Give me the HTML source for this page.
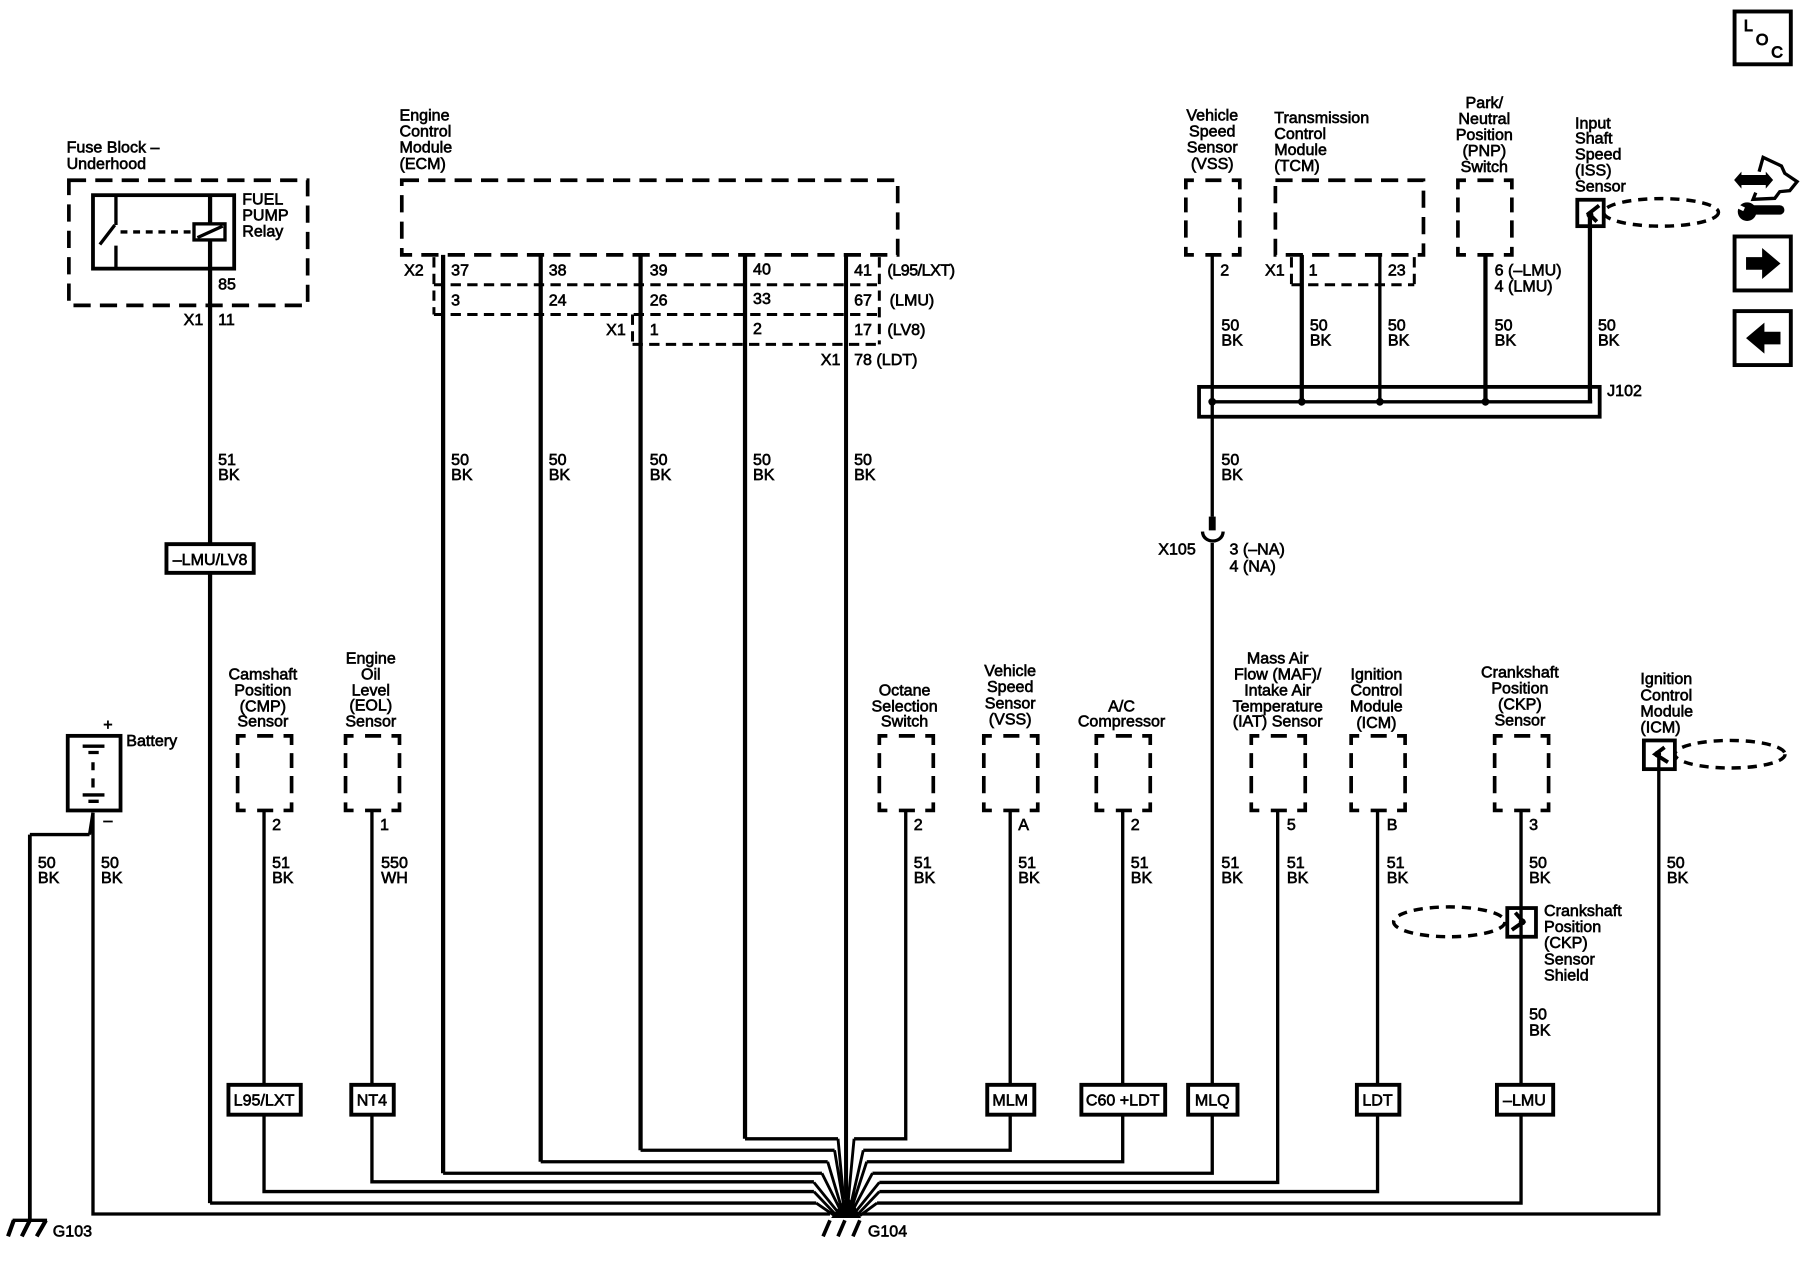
<!DOCTYPE html>
<html><head><meta charset="utf-8"><style>
html,body{margin:0;padding:0;background:#fff}
svg{display:block}
text{font-family:"Liberation Sans",sans-serif;font-size:14px;fill:#000;stroke:#000;stroke-width:.55}
.m{text-anchor:middle}
.w{fill:none;stroke:#000;stroke-width:2.9}
.t{fill:none;stroke:#000;stroke-width:3.7}
.d{fill:none;stroke:#000;stroke-width:3.2;stroke-dasharray:15 8}
.s{fill:none;stroke:#000;stroke-width:2.6;stroke-dasharray:9 5.5}
.e{fill:none;stroke:#000;stroke-width:3;stroke-dasharray:8 6}
.b{fill:none;stroke:#000;stroke-width:3.3}
.c{fill:none;stroke:#000;stroke-width:3.4}
</style></head><body>
<svg xmlns="http://www.w3.org/2000/svg" width="1800" height="1280" viewBox="0 0 1568 1115">
<defs>
<g id="b" fill="none" stroke="#000" stroke-width="3.2"><path d="M0 8V0H7M17 0H31M40 0H47V8M0 15V28M0 35V50M47 15V28M47 35V50M0 58V65H7M17 65H31M40 65H47V58"/></g>
</defs>

<!-- Fuse block -->
<rect x="60" y="157" width="208" height="109" class="d"/>
<rect x="81" y="170" width="123" height="64" class="b"/>
<path class="w" d="M101 170V196M101 214V234"/>
<path class="w" d="M100 196L87 213"/>
<path class="w" style="stroke-dasharray:6 5" d="M105 202H168"/>
<rect x="169" y="195" width="27" height="14" class="w"/>
<path class="w" d="M172 207L194 197"/>
<path class="t" d="M183 170V195M183 209V474M183 499V1048"/>
<path class="w" d="M183 1048H711"/>

<!-- ECM -->
<rect x="350" y="157" width="432" height="65" class="d"/>
<path class="s" d="M378 224V274M378 248H766M378 274H766M551 274V300M551 300H766M766 224V300" />
<path class="t" d="M386 222V1022M471 222V1012M558 222V1002M649 222V992"/>
<path class="t" style="stroke-width:3.5" d="M737 222V1045"/>
<path class="w" d="M386 1022H716M471 1012H721M558 1002H727M649 992H730"/>

<!-- Fan -->
<path class="w" style="stroke-width:2.5" d="M727 1002L735 1050M730 992L735 1045M721 1012L733 1052M716 1022L732 1054M709 1030L730 1056M709 1038L728 1058M711 1048L727 1059"/>
<path class="w" style="stroke-width:2.5" d="M744 992L739 1045M752 1002L741 1050M755 1012L742 1052M760 1022L743 1054M766 1030L745 1056M766 1038L747 1058M764 1048L749 1059"/>
<polygon points="724,1061 750,1061 745,1051 738,1042 731,1051" fill="#000"/>
<path class="w" d="M81 708V1057.5H723M230 706V1038H709M324 706V1029.5H709M789 706V992H744M880 706V1002H752M978 706V1012H755M1056 473V1022H760M1113 706V1030H766M1200 706V1038H766M1325 706V1048H764M1445 657V1057.5H751"/>
<path class="w" style="stroke-width:3.2" d="M723 1063L717 1077M736 1063L730 1077M749 1063L743 1077"/>
<text x="756" y="1077">G104</text>

<!-- G103 / battery -->
<path class="b" d="M26 727V1063"/>
<path class="w" d="M11 1063H41M78 727H26M78 727L81 708"/>
<path class="b" style="stroke-width:3.6" d="M12 1063L7 1077M26 1063L19 1077M40 1063L32 1077"/>
<text x="46" y="1077">G103</text>
<rect x="59" y="641" width="46" height="65" class="b"/>
<path class="w" d="M72 650H91M77 655.5H86M81 664V671M81 678V686M72 692.5H91M77 698H86"/>
<text x="94" y="636" class="m">+</text><text x="94" y="719" class="m">–</text>
<text x="110" y="650">Battery</text>

<!-- Dashed sensor boxes bottom -->
<use href="#b" x="207" y="641"/><use href="#b" x="301" y="641"/><use href="#b" x="766" y="641"/>
<use href="#b" x="857" y="641"/><use href="#b" x="955" y="641"/><use href="#b" x="1090" y="641"/>
<use href="#b" x="1177" y="641"/><use href="#b" x="1302" y="641"/>

<!-- top sensors -->
<use href="#b" x="1033" y="157"/><use href="#b" x="1270" y="157"/>
<rect x="1111" y="157" width="129" height="65" class="d"/>
<path class="s" d="M1125 224V249M1125 248H1232M1232 224V249"/>
<path class="w" d="M1056 222V450"/>
<path class="t" d="M1134 222V349M1294 222V349M1385 186V350"/>
<path class="w" d="M1202 222V349M1056 350H1387"/>
<rect x="1044.5" y="337" width="349" height="26" class="b"/>
<circle cx="1056" cy="350" r="3.4"/><circle cx="1134" cy="350" r="3.4"/><circle cx="1202" cy="350" r="3.4"/><circle cx="1294" cy="350" r="3.4"/>
<rect x="1053" y="450" width="6" height="12" fill="#000"/>
<path class="w" d="M1047.5 463C1048 474 1065 474 1065.5 463"/>

<!-- shields -->
<rect x="1374" y="174" width="23" height="23" class="b"/>
<path class="c" d="M1393 179L1384 186L1391 193"/><circle cx="1385" cy="187" r="3"/>
<ellipse cx="1447" cy="185" rx="50" ry="12" class="e"/>
<rect x="1432" y="645" width="27" height="25" class="b"/>
<path class="c" d="M1450 651L1442 657L1453 664"/><circle cx="1444" cy="657" r="3"/>
<ellipse cx="1507" cy="657" rx="48" ry="12" class="e"/>
<rect x="1313" y="791" width="25" height="25" class="b"/>
<path class="c" d="M1320 795L1327 803L1317 810"/><circle cx="1326" cy="803" r="3"/>
<ellipse cx="1262.5" cy="803" rx="48.5" ry="13" class="e"/>

<!-- Option boxes -->
<g fill="#fff" stroke="#000" stroke-width="3.4">
<rect x="145" y="474" width="76" height="25"/>
<rect x="199" y="945" width="63" height="26"/>
<rect x="306" y="945" width="37" height="26"/>
<rect x="860" y="945" width="41" height="26"/>
<rect x="942" y="945" width="73" height="26"/>
<rect x="1035" y="945" width="43" height="26"/>
<rect x="1182" y="945" width="37" height="26"/>
<rect x="1304" y="945" width="49" height="26"/>
</g>
<text x="183" y="492" class="m">–LMU/LV8</text>
<text x="230" y="963" class="m">L95/LXT</text>
<text x="324" y="963" class="m">NT4</text>
<text x="880" y="963" class="m">MLM</text>
<text x="978" y="963" class="m">C60 +LDT</text>
<text x="1056" y="963" class="m">MLQ</text>
<text x="1200" y="963" class="m">LDT</text>
<text x="1328" y="963" class="m">–LMU</text>

<!-- Labels -->
<text x="58" y="133">Fuse Block –</text><text x="58" y="147">Underhood</text>
<text x="211" y="178">FUEL</text><text x="211" y="192">PUMP</text><text x="211" y="206">Relay</text>
<text x="190" y="252">85</text><text x="160" y="283">X1</text><text x="190" y="283">11</text>
<text x="190" y="405">51</text><text x="190" y="418">BK</text>

<text x="348" y="105">Engine</text><text x="348" y="119">Control</text><text x="348" y="133">Module</text><text x="348" y="147">(ECM)</text>
<text x="352" y="240">X2</text>
<text x="393" y="240">37</text><text x="478" y="240">38</text><text x="566" y="240">39</text><text x="656" y="239">40</text><text x="744" y="240">41</text><text x="773" y="240" textLength="59">(L95/LXT)</text>
<text x="393" y="266">3</text><text x="478" y="266">24</text><text x="566" y="266">26</text><text x="656" y="265">33</text><text x="744" y="266">67</text><text x="775" y="266">(LMU)</text>
<text x="528" y="292">X1</text><text x="566" y="292">1</text><text x="656" y="291">2</text><text x="744" y="292">17</text><text x="773" y="292">(LV8)</text>
<text x="715" y="318">X1</text><text x="744" y="318">78 (LDT)</text>

<text x="393" y="405">50</text><text x="393" y="418">BK</text>
<text x="478" y="405">50</text><text x="478" y="418">BK</text>
<text x="566" y="405">50</text><text x="566" y="418">BK</text>
<text x="656" y="405">50</text><text x="656" y="418">BK</text>
<text x="744" y="405">50</text><text x="744" y="418">BK</text>

<text x="1056" y="105" class="m">Vehicle</text><text x="1056" y="119" class="m">Speed</text><text x="1056" y="133" class="m">Sensor</text><text x="1056" y="147" class="m">(VSS)</text>
<text x="1110" y="107">Transmission</text><text x="1110" y="121">Control</text><text x="1110" y="135">Module</text><text x="1110" y="149">(TCM)</text>
<text x="1293" y="94" class="m">Park/</text><text x="1293" y="108" class="m">Neutral</text><text x="1293" y="122" class="m">Position</text><text x="1293" y="136" class="m">(PNP)</text><text x="1293" y="150" class="m">Switch</text>
<text x="1372" y="112">Input</text><text x="1372" y="125">Shaft</text><text x="1372" y="139">Speed</text><text x="1372" y="153">(ISS)</text><text x="1372" y="167">Sensor</text>

<text x="1063" y="240">2</text><text x="1102" y="240">X1</text><text x="1140" y="240">1</text><text x="1209" y="240">23</text>
<text x="1302" y="240">6 (–LMU)</text><text x="1302" y="254">4 (LMU)</text>
<text x="1064" y="288">50</text><text x="1064" y="301">BK</text>
<text x="1141" y="288">50</text><text x="1141" y="301">BK</text>
<text x="1209" y="288">50</text><text x="1209" y="301">BK</text>
<text x="1302" y="288">50</text><text x="1302" y="301">BK</text>
<text x="1392" y="288">50</text><text x="1392" y="301">BK</text>
<text x="1400" y="345">J102</text>
<text x="1064" y="405">50</text><text x="1064" y="418">BK</text>
<text x="1009" y="483">X105</text><text x="1071" y="483">3 (–NA)</text><text x="1071" y="498">4 (NA)</text>

<text x="229" y="592" class="m">Camshaft</text><text x="229" y="606" class="m">Position</text><text x="229" y="620" class="m">(CMP)</text><text x="229" y="633" class="m">Sensor</text>
<text x="323" y="578" class="m">Engine</text><text x="323" y="592" class="m">Oil</text><text x="323" y="606" class="m">Level</text><text x="323" y="619" class="m">(EOL)</text><text x="323" y="633" class="m">Sensor</text>
<text x="788" y="606" class="m">Octane</text><text x="788" y="620" class="m">Selection</text><text x="788" y="633" class="m">Switch</text>
<text x="880" y="589" class="m">Vehicle</text><text x="880" y="603" class="m">Speed</text><text x="880" y="617" class="m">Sensor</text><text x="880" y="631" class="m">(VSS)</text>
<text x="977" y="620" class="m">A/C</text><text x="977" y="633" class="m">Compressor</text>
<text x="1113" y="578" class="m">Mass Air</text><text x="1113" y="592" class="m">Flow (MAF)/</text><text x="1113" y="606" class="m">Intake Air</text><text x="1113" y="620" class="m">Temperature</text><text x="1113" y="633" class="m">(IAT) Sensor</text>
<text x="1199" y="592" class="m">Ignition</text><text x="1199" y="606" class="m">Control</text><text x="1199" y="620" class="m">Module</text><text x="1199" y="634" class="m">(ICM)</text>
<text x="1324" y="590" class="m">Crankshaft</text><text x="1324" y="604" class="m">Position</text><text x="1324" y="618" class="m">(CKP)</text><text x="1324" y="632" class="m">Sensor</text>
<text x="1429" y="596">Ignition</text><text x="1429" y="610">Control</text><text x="1429" y="624">Module</text><text x="1429" y="638">(ICM)</text>
<text x="1345" y="798">Crankshaft</text><text x="1345" y="812">Position</text><text x="1345" y="826">(CKP)</text><text x="1345" y="840">Sensor</text><text x="1345" y="854">Shield</text>

<text x="237" y="723">2</text><text x="331" y="723">1</text><text x="796" y="723">2</text><text x="887" y="723">A</text><text x="985" y="723">2</text><text x="1121" y="723">5</text><text x="1208" y="723">B</text><text x="1332" y="723">3</text>

<text x="33" y="756">50</text><text x="33" y="769">BK</text>
<text x="88" y="756">50</text><text x="88" y="769">BK</text>
<text x="237" y="756">51</text><text x="237" y="769">BK</text>
<text x="332" y="756">550</text><text x="332" y="769">WH</text>
<text x="796" y="756">51</text><text x="796" y="769">BK</text>
<text x="887" y="756">51</text><text x="887" y="769">BK</text>
<text x="985" y="756">51</text><text x="985" y="769">BK</text>
<text x="1064" y="756">51</text><text x="1064" y="769">BK</text>
<text x="1121" y="756">51</text><text x="1121" y="769">BK</text>
<text x="1208" y="756">51</text><text x="1208" y="769">BK</text>
<text x="1332" y="756">50</text><text x="1332" y="769">BK</text>
<text x="1452" y="756">50</text><text x="1452" y="769">BK</text>
<text x="1332" y="888">50</text><text x="1332" y="902">BK</text>

<!-- Right icons -->
<rect x="1511" y="10" width="49" height="46" class="c"/>
<text x="1523" y="27" class="m" style="stroke-width:.9">L</text><text x="1535" y="39" class="m" style="stroke-width:.9">O</text><text x="1548" y="50" class="m" style="stroke-width:.9">C</text>
<rect x="1511" y="206" width="49" height="47" class="c"/>
<polygon points="1521,224 1535,224 1535,216 1551,229.5 1535,243 1535,235 1521,235" fill="#000"/>
<rect x="1511" y="271" width="49" height="47" class="c"/>
<polygon points="1551,289 1537,289 1537,281 1521,294.5 1537,308 1537,300 1551,300" fill="#000"/>
<g transform="scale(.871) translate(1700,130) scale(.3333)">
<polygon points="103,150 125,125 125,135 198,135 198,125 220,150 198,176 198,165 125,165 125,176" fill="#000"/>
<path fill="none" stroke="#000" stroke-width="10" d="M178 125L190 82L245 108L255 130L292 155L270 182L240 185L225 205L160 208L168 188"/>
<path d="M150 240H240" stroke="#000" stroke-width="28" stroke-linecap="round"/>
<circle cx="142" cy="245" r="28"/>
<path d="M112 228L133 238" stroke="#fff" stroke-width="12"/>
</g>
</svg>
</body></html>
